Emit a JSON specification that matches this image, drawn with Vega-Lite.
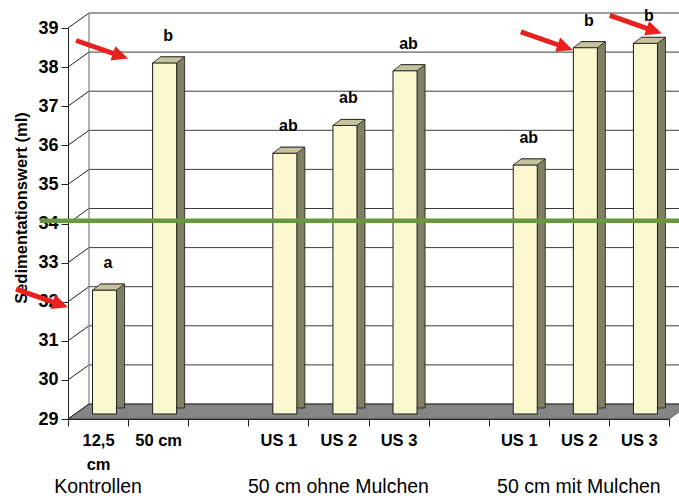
{
  "$schema": "https://vega.github.io/schema/vega-lite/v6.json",
  "width": 601,
  "height": 391,
  "autosize": {"type": "none"},
  "padding": {"left": 68, "top": 28, "right": 10, "bottom": 77},
  "background": "white",
  "view": {"stroke": null},
  "config": {
    "font": "Liberation Sans",
    "axisY": {
      "grid": false,
      "tickSize": 7,
      "tickColor": "#222222",
      "domainColor": "#222222",
      "labelFont": "Liberation Sans",
      "labelFontSize": 18,
      "labelFontWeight": "bold",
      "labelColor": "#000000",
      "labelPadding": 3,
      "labelOverlap": false,
      "labelFlush": false,
      "titleFont": "Liberation Sans",
      "titleFontSize": 16.5,
      "titleFontWeight": "bold",
      "titleColor": "#000000",
      "zindex": 1
    }
  },
  "datasets": {
    "bars": [
      {"cat": "K|12,5|cm", "v": 32.17, "sig": "a"},
      {"cat": "K|50 cm", "v": 37.98, "sig": "b"},
      {"cat": "O|US 1", "v": 35.67, "sig": "ab"},
      {"cat": "O|US 2", "v": 36.38, "sig": "ab"},
      {"cat": "O|US 3", "v": 37.78, "sig": "ab"},
      {"cat": "M|US 1", "v": 35.37, "sig": "ab"},
      {"cat": "M|US 2", "v": 38.37, "sig": "b"},
      {"cat": "M|US 3", "v": 38.48, "sig": "b"}
    ],
    "groups": [
      {"cat": "K|12,5|cm", "name": "Kontrollen"},
      {"cat": "O|US 2", "name": "50 cm ohne Mulchen"},
      {"cat": "M|US 2", "name": "50 cm mit Mulchen"}
    ],
    "ticks": [
      {"t": 29}, {"t": 30}, {"t": 31}, {"t": 32}, {"t": 33}, {"t": 34},
      {"t": 35}, {"t": 36}, {"t": 37}, {"t": 38}, {"t": 39}
    ],
    "arrows": [
      {"pos": 1.0, "v": 38.22},
      {"pos": 0.0, "v": 31.86},
      {"pos": 8.4, "v": 38.44},
      {"pos": 9.88, "v": 38.86}
    ]
  },
  "layer": [
    {
      "data": {"name": "ticks"},
      "layer": [
        {
          "transform": [{"filter": "datum.t == 29"}],
          "mark": {"type": "point", "shape": "M0,0 L601,0 L622,-15 L21,-15 Z", "size": 4, "filled": true, "fill": "#858585", "stroke": "#3a3a3a", "strokeWidth": 0.8, "opacity": 1},
          "encoding": {
            "x": {"datum": 0, "type": "quantitative", "scale": {"domain": [0, 10], "nice": false, "zero": false}, "axis": null},
            "y": {"field": "t", "type": "quantitative", "scale": {"domain": [29, 39], "nice": false, "zero": false}, "axis": {"values": [29, 30, 31, 32, 33, 34, 35, 36, 37, 38, 39], "tickCount": 11, "title": "Sedimentationswert (ml)", "titleAngle": -90, "titleX": -46.5, "titleY": 179.5, "titleAlign": "center", "titleBaseline": "middle"}}
          }
        },
        {
          "mark": {"type": "rule", "xOffset": 21, "x2Offset": 40, "yOffset": -15, "stroke": "#3c3c3c", "strokeWidth": 1},
          "encoding": {
            "x": {"datum": 0, "type": "quantitative", "scale": {"domain": [0, 10], "nice": false, "zero": false}, "axis": null},
            "x2": {"datum": 10},
            "y": {"field": "t", "type": "quantitative", "scale": {"domain": [29, 39], "nice": false, "zero": false}, "axis": {"values": [29, 30, 31, 32, 33, 34, 35, 36, 37, 38, 39], "tickCount": 11, "title": "Sedimentationswert (ml)", "titleAngle": -90, "titleX": -46.5, "titleY": 179.5, "titleAlign": "center", "titleBaseline": "middle"}}
          }
        },
        {
          "mark": {"type": "rule", "x2Offset": 21, "y2Offset": -15, "stroke": "#202020", "strokeWidth": 1},
          "encoding": {
            "x": {"datum": 0, "type": "quantitative", "scale": {"domain": [0, 10], "nice": false, "zero": false}, "axis": null},
            "x2": {"datum": 0},
            "y": {"field": "t", "type": "quantitative", "scale": {"domain": [29, 39], "nice": false, "zero": false}, "axis": {"values": [29, 30, 31, 32, 33, 34, 35, 36, 37, 38, 39], "tickCount": 11, "title": "Sedimentationswert (ml)", "titleAngle": -90, "titleX": -46.5, "titleY": 179.5, "titleAlign": "center", "titleBaseline": "middle"}},
            "y2": {"field": "t"}
          }
        },
        {
          "transform": [{"filter": "datum.t == 29"}],
          "mark": {"type": "rule", "xOffset": 21, "yOffset": -15, "y2Offset": -15, "stroke": "#808080", "strokeWidth": 1.2},
          "encoding": {
            "x": {"datum": 0, "type": "quantitative", "scale": {"domain": [0, 10], "nice": false, "zero": false}, "axis": null},
            "y": {"datum": 29, "type": "quantitative", "scale": {"domain": [29, 39], "nice": false, "zero": false}, "axis": {"values": [29, 30, 31, 32, 33, 34, 35, 36, 37, 38, 39], "tickCount": 11, "title": "Sedimentationswert (ml)", "titleAngle": -90, "titleX": -46.5, "titleY": 179.5, "titleAlign": "center", "titleBaseline": "middle"}},
            "y2": {"datum": 39}
          }
        }
      ]
    },
    {
      "data": {"name": "bars"},
      "layer": [
        {
          "mark": {"type": "bar", "width": {"band": 0.4}, "xOffset": 14.5, "yOffset": -11, "y2Offset": -11, "fill": "#7f7f63", "stroke": "#1a1a1a", "strokeWidth": 0.8},
          "encoding": {
            "x": {"field": "cat", "type": "nominal", "scale": {"domain": ["K|12,5|cm", "K|50 cm", "g1", "O|US 1", "O|US 2", "O|US 3", "g2", "M|US 1", "M|US 2", "M|US 3"], "paddingInner": 0, "paddingOuter": 0}},
            "y": {"field": "v", "type": "quantitative", "scale": {"domain": [29, 39], "nice": false, "zero": false}, "axis": {"values": [29, 30, 31, 32, 33, 34, 35, 36, 37, 38, 39], "tickCount": 11, "title": "Sedimentationswert (ml)", "titleAngle": -90, "titleX": -46.5, "titleY": 179.5, "titleAlign": "center", "titleBaseline": "middle"}},
            "y2": {"datum": 29}
          }
        },
        {
          "mark": {"type": "bar", "width": {"band": 0.4}, "xOffset": 6.5, "yOffset": -5, "y2Offset": -5, "fill": "#fbf7cf", "stroke": "#1a1a1a", "strokeWidth": 1},
          "encoding": {
            "x": {
              "field": "cat", "type": "nominal",
              "scale": {"domain": ["K|12,5|cm", "K|50 cm", "g1", "O|US 1", "O|US 2", "O|US 3", "g2", "M|US 1", "M|US 2", "M|US 3"], "paddingInner": 0, "paddingOuter": 0},
              "axis": {
                "title": null,
                "orient": "bottom",
                "tickBand": "extent",
                "tickSize": 7,
                "tickColor": "#222222",
                "domainColor": "#222222",
                "labelExpr": "slice(split(datum.value, '|'), 1)",
                "labelFont": "Liberation Sans",
                "labelFontSize": 16.5,
                "labelFontWeight": "bold",
                "labelColor": "#000000",
                "labelLineHeight": 24,
                "labelPadding": 14,
                "labelAngle": 0,
                "labelAlign": "center",
                "labelOverlap": false,
                "zindex": 1
              }
            },
            "y": {"field": "v", "type": "quantitative", "scale": {"domain": [29, 39], "nice": false, "zero": false}, "axis": {"values": [29, 30, 31, 32, 33, 34, 35, 36, 37, 38, 39], "tickCount": 11, "title": "Sedimentationswert (ml)", "titleAngle": -90, "titleX": -46.5, "titleY": 179.5, "titleAlign": "center", "titleBaseline": "middle"}},
            "y2": {"datum": 29}
          }
        },
        {
          "mark": {"type": "point", "shape": "M-12,0 L12,0 L20,-6 L-4,-6 Z", "size": 4, "filled": true, "fill": "#c6c29e", "stroke": "#1a1a1a", "strokeWidth": 0.8, "opacity": 1, "xOffset": 6.5, "yOffset": -5},
          "encoding": {
            "x": {"field": "cat", "type": "nominal"},
            "y": {"field": "v", "type": "quantitative", "scale": {"domain": [29, 39], "nice": false, "zero": false}, "axis": {"values": [29, 30, 31, 32, 33, 34, 35, 36, 37, 38, 39], "tickCount": 11, "title": "Sedimentationswert (ml)", "titleAngle": -90, "titleX": -46.5, "titleY": 179.5, "titleAlign": "center", "titleBaseline": "middle"}}
          }
        },
        {
          "mark": {"type": "text", "fontSize": 16, "fontWeight": "bold", "font": "Liberation Sans", "color": "#000000", "align": "center", "baseline": "alphabetic", "dx": 10, "dy": -27},
          "encoding": {
            "x": {"field": "cat", "type": "nominal"},
            "y": {"field": "v", "type": "quantitative", "scale": {"domain": [29, 39], "nice": false, "zero": false}, "axis": {"values": [29, 30, 31, 32, 33, 34, 35, 36, 37, 38, 39], "tickCount": 11, "title": "Sedimentationswert (ml)", "titleAngle": -90, "titleX": -46.5, "titleY": 179.5, "titleAlign": "center", "titleBaseline": "middle"}},
            "text": {"field": "sig"}
          }
        },
        {
          "data": {"name": "groups"},
          "mark": {"type": "text", "fontSize": 19.5, "fontWeight": "normal", "font": "Liberation Sans", "color": "#000000", "align": "center", "baseline": "alphabetic", "dy": 74},
          "encoding": {
            "x": {"field": "cat", "type": "nominal"},
            "y": {"datum": 29, "type": "quantitative", "scale": {"domain": [29, 39], "nice": false, "zero": false}, "axis": {"values": [29, 30, 31, 32, 33, 34, 35, 36, 37, 38, 39], "tickCount": 11, "title": "Sedimentationswert (ml)", "titleAngle": -90, "titleX": -46.5, "titleY": 179.5, "titleAlign": "center", "titleBaseline": "middle"}},
            "text": {"field": "name"}
          }
        }
      ]
    },
    {
      "data": {"name": "arrows"},
      "layer": [
        {
          "transform": [{"filter": "datum.pos == 0"}],
          "mark": {"type": "rule", "stroke": "#67993f", "strokeWidth": 4.5},
          "encoding": {
            "x": {"datum": -0.47, "type": "quantitative", "scale": {"domain": [0, 10], "nice": false, "zero": false}, "axis": null},
            "x2": {"datum": 10.4},
            "y": {"datum": 34.07, "type": "quantitative", "scale": {"domain": [29, 39], "nice": false, "zero": false}, "axis": {"values": [29, 30, 31, 32, 33, 34, 35, 36, 37, 38, 39], "tickCount": 11, "title": "Sedimentationswert (ml)", "titleAngle": -90, "titleX": -46.5, "titleY": 179.5, "titleAlign": "center", "titleBaseline": "middle"}}
          }
        },
        {
          "mark": {"type": "rule", "stroke": "#e8211f", "strokeWidth": 5, "strokeCap": "butt", "xOffset": -10, "yOffset": -3.4, "x2Offset": -52, "y2Offset": -18},
          "encoding": {
            "x": {"field": "pos", "type": "quantitative", "scale": {"domain": [0, 10], "nice": false, "zero": false}, "axis": null},
            "x2": {"field": "pos"},
            "y": {"field": "v", "type": "quantitative", "scale": {"domain": [29, 39], "nice": false, "zero": false}, "axis": {"values": [29, 30, 31, 32, 33, 34, 35, 36, 37, 38, 39], "tickCount": 11, "title": "Sedimentationswert (ml)", "titleAngle": -90, "titleX": -46.5, "titleY": 179.5, "titleAlign": "center", "titleBaseline": "middle"}},
            "y2": {"field": "v"}
          }
        },
        {
          "mark": {"type": "point", "shape": "M0,0 L-16,-7.5 L-16,7.5 Z", "size": 4, "angle": 19, "filled": true, "fill": "#e8211f", "stroke": null, "opacity": 1},
          "encoding": {
            "x": {"field": "pos", "type": "quantitative", "scale": {"domain": [0, 10], "nice": false, "zero": false}, "axis": null},
            "y": {"field": "v", "type": "quantitative", "scale": {"domain": [29, 39], "nice": false, "zero": false}, "axis": {"values": [29, 30, 31, 32, 33, 34, 35, 36, 37, 38, 39], "tickCount": 11, "title": "Sedimentationswert (ml)", "titleAngle": -90, "titleX": -46.5, "titleY": 179.5, "titleAlign": "center", "titleBaseline": "middle"}}
          }
        }
      ]
    }
  ],
  "resolve": {"scale": {"x": "independent"}}
}
